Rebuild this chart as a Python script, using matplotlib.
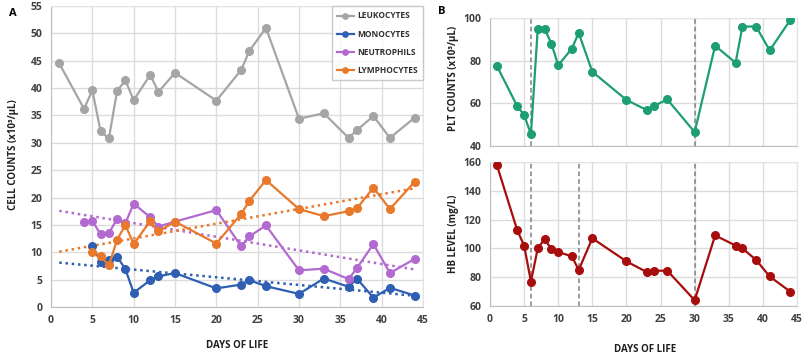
import numpy as np
import matplotlib
matplotlib.use("Agg")
import matplotlib.pyplot as plt

plt.rcParams['font.family'] = ['Open Sans', 'DejaVu Sans']

# Panel A: cell counts (x10^3/uL)
leuko_days = [1, 4, 5, 6, 7, 8, 9, 10, 12, 13, 15, 20, 23, 24, 26, 30, 33, 36, 37, 39, 41, 44]
leuko = [44.5, 36.2, 39.6, 32.1, 30.8, 39.5, 41.4, 37.8, 42.4, 39.3, 42.8, 37.7, 43.3, 46.8, 51.0,
         34.4, 35.4, 30.9, 32.3, 34.9, 30.9, 34.6]

mono_days = [5, 6, 7, 8, 9, 10, 12, 13, 15, 20, 23, 24, 26, 30, 33, 36, 37, 39, 41, 44]
mono = [11.1, 8.3, 8.5, 9.2, 6.9, 2.6, 4.9, 5.6, 6.2, 3.4, 4.1, 4.9, 3.8, 2.4, 5.2, 3.7, 5.2, 1.7, 3.5, 2.1]

neutro_days = [4, 5, 6, 7, 8, 9, 10, 12, 13, 15, 20, 23, 24, 26, 30, 33, 36, 37, 39, 41, 44]
neutro = [15.6, 15.7, 13.3, 13.5, 16.1, 15.3, 18.9, 16.4, 14.7, 15.6, 17.7, 11.1, 12.9, 14.9,
          6.7, 7.0, 5.1, 7.1, 11.5, 6.2, 8.8]

lympho_days = [5, 6, 7, 8, 9, 10, 12, 13, 15, 20, 23, 24, 26, 30, 33, 36, 37, 39, 41, 44]
lympho = [10.1, 9.3, 7.6, 12.3, 15.0, 11.5, 15.7, 13.8, 15.6, 11.6, 17.0, 19.4, 23.2,
          17.9, 16.6, 17.5, 18.0, 21.8, 17.9, 22.9]

# Panel B: platelets and hemoglobin
plt_days = [1, 4, 5, 6, 7, 8, 9, 10, 12, 13, 15, 20, 23, 24, 26, 30, 33, 36, 37, 39, 41, 44]
plt_counts = [77.6, 58.6, 54.6, 45.5, 95, 95, 88, 77.8, 85.7, 93, 74.8, 61.6, 56.8, 58.8, 61.8,
              46.5, 87, 79, 96, 96, 84.8, 99]

hb_days = [1, 4, 5, 6, 7, 8, 9, 10, 12, 13, 15, 20, 23, 24, 26, 30, 33, 36, 37, 39, 41, 44]
hb = [158, 112.5, 102, 77, 100, 106.5, 99.5, 97.5, 94.5, 85, 107, 91, 83.5, 84.5, 84.5,
      64, 109, 102, 100, 92, 80.5, 70]

plt_events = [6, 30]
hb_events = [6, 13, 30]

c_leuko = '#A5A5A5'
c_mono = '#2F5FB3'
c_neutro = '#B36AD0'
c_lympho = '#E8792B'
c_plt = '#1E9E74'
c_hb = '#A80D0D'
grid_c = '#DCDCDC'
tick_c = '#404040'
lab_c = '#202020'

fig = plt.figure(figsize=(8.1, 3.6), dpi=100)
W, H = 810, 360


def box(l, t, r, b):
    return [l / W, 1 - b / H, (r - l) / W, (b - t) / H]


def ftext(x, y, s, **kw):
    kw.setdefault('fontsize', 7)
    kw.setdefault('fontweight', 'bold')
    kw.setdefault('color', lab_c)
    fig.text(x / W, 1 - y / H, s, ha='center', va='center', **kw)


def style(ax):
    ax.grid(True, color=grid_c, linewidth=1)
    ax.set_axisbelow(True)
    for s in ax.spines.values():
        s.set_color('#E3E3E3')
    ax.spines['left'].set_color('#BFBFBF')
    ax.spines['bottom'].set_color('#BFBFBF')
    ax.tick_params(length=0, labelsize=7.5, colors=tick_c, pad=6)
    for lab in ax.get_xticklabels() + ax.get_yticklabels():
        lab.set_fontweight('bold')


lw, ms = 1.6, 5.5

# ---- Panel A
axA = fig.add_axes(box(51, 6, 423, 307))
series = [
    (leuko_days, leuko, c_leuko, 'LEUKOCYTES'),
    (mono_days, mono, c_mono, 'MONOCYTES'),
    (neutro_days, neutro, c_neutro, 'NEUTROPHILS'),
    (lympho_days, lympho, c_lympho, 'LYMPHOCYTES'),
]
for d, v, c, name in series:
    axA.plot(d, v, '-o', color=c, lw=lw, ms=ms, label=name, zorder=3)

# linear trend lines for monocytes, neutrophils, lymphocytes
tx = np.array([1, 44])
for d, v, c, name in series[1:]:
    k, b0 = np.polyfit(d, v, 1)
    axA.plot(tx, k * tx + b0, linestyle=(0, (1, 1.5)), color=c, lw=1.8, zorder=2)

axA.set_xlim(0, 45)
axA.set_ylim(0, 55)
axA.set_xticks(range(0, 46, 5))
axA.set_yticks(range(0, 56, 5))
style(axA)
leg = axA.legend(loc='upper right', fontsize=6, frameon=True, fancybox=False,
                 edgecolor='#BFBFBF', handlelength=2.0, handletextpad=0.4, borderpad=0.6,
                 labelspacing=1.1, markerscale=0.7, borderaxespad=0.05)
for t in leg.get_texts():
    t.set_fontweight('bold')
    t.set_color('#303030')
ftext(14, 155, 'CELL COUNTS (x10³/µL)', rotation=90)
ftext(237, 345, 'DAYS OF LIFE')
ftext(13, 13, 'A', fontsize=8, color='black')

# ---- Panel B top: platelets
axP = fig.add_axes(box(490, 18, 797, 146))
axP.plot(plt_days, plt_counts, '-o', color=c_plt, lw=lw, ms=ms, zorder=3)
for e in plt_events:
    axP.axvline(e, color='#808080', linestyle=(0, (3, 2)), lw=1.1, zorder=2)
axP.set_xlim(0, 45)
axP.set_ylim(40, 100)
axP.set_xticks(range(0, 46, 5))
axP.set_yticks([40, 60, 80, 100])
style(axP)
axP.tick_params(labelbottom=False)
ftext(454, 78, 'PLT COUNTS (x10³/µL)', rotation=90)
ftext(442, 12, 'B', fontsize=8, color='black')

# ---- Panel B bottom: hemoglobin
axH = fig.add_axes(box(490, 162, 797, 306))
axH.plot(hb_days, hb, '-o', color=c_hb, lw=lw, ms=ms, zorder=3)
for e in hb_events:
    axH.axvline(e, color='#808080', linestyle=(0, (3, 2)), lw=1.1, zorder=2)
axH.set_xlim(0, 45)
axH.set_ylim(60, 160)
axH.set_xticks(range(0, 46, 5))
axH.set_yticks(range(60, 161, 20))
style(axH)
ftext(454, 234, 'HB LEVEL (mg/L)', rotation=90)
ftext(645, 349, 'DAYS OF LIFE')

fig.savefig('out.png', dpi=100)
